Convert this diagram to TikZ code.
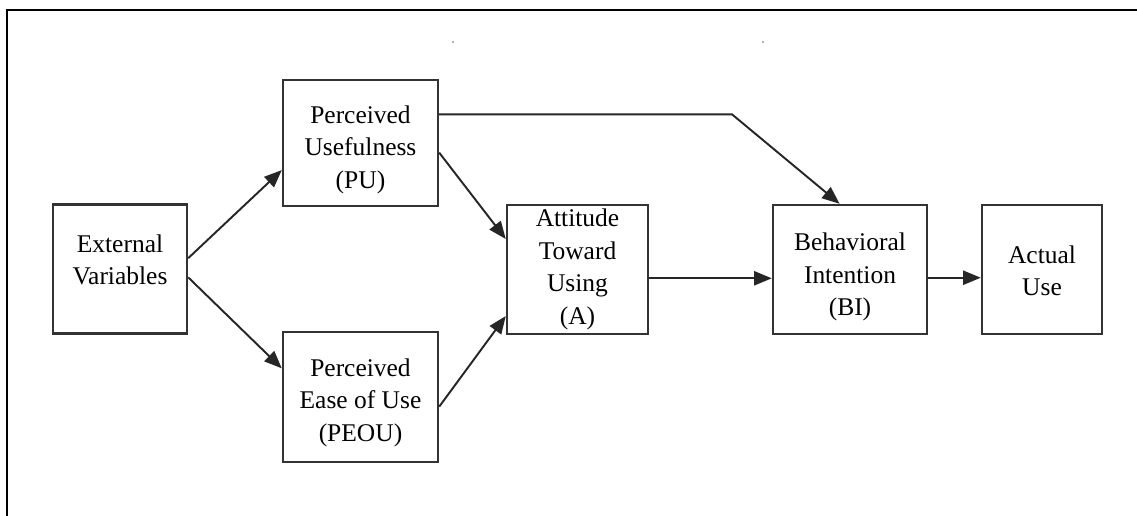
\documentclass[tikz,border=0pt]{standalone}
\usepackage{fontspec}
\setmainfont{Liberation Serif}
\usetikzlibrary{arrows.meta}

\tikzset{
  block/.style={draw=black!80, line width=1.4pt, minimum height=2.58cm, align=center, inner sep=0pt,
    font=\fontsize{14.5}{18.6}\selectfont},
  link/.style={-{Triangle[length=10pt,width=8pt]}, line width=1.1pt, draw=black!85}
}

\begin{document}
\begin{tikzpicture}[x=0.02cm, y=-0.02cm]
        \useasboundingbox (0,0) rectangle (1137,516);
        \draw[line width=1.6pt] (7,530) -- (7,10) -- (1150,10);
        \fill[black!60] (453,42) circle (0.9) (763,42) circle (0.9);

        \node[block, minimum width=2.68cm] (ev) at (120,269) {External\\Variables\\[-8pt]};
        \node[block, minimum width=3.1cm, minimum height=2.52cm] (pu) at (360.5,143) {Perceived\\Usefulness\\(PU)\\[-23pt]};
        \node[block, minimum width=3.1cm, minimum height=2.6cm] (peou) at (360.5,397) {Perceived\\Ease of Use\\(PEOU)\\[-22pt]};
        \node[block, minimum width=2.82cm] (att) at (577.5,269.5) {Attitude\\Toward\\Using\\(A)};
        \node[block, minimum width=3.08cm] (bi) at (850,269.5) {Behavioral\\Intention\\(BI)\\[-24pt]};
        \node[block, minimum width=2.4cm] (au) at (1042,269.5) {Actual\\Use\\[-20pt]};
        \coordinate (bend) at (732,114);

        \draw[link] (ev.9) -- (pu.199);
        \draw[link] (ev.-7) -- (peou.160);
        \draw[link] (pu.-7) -- (att.157);
        \draw[link] (peou.-7) -- (att.213);
        \draw[link] (att.-7) -- (att.-7 -| bi.west);
        \draw[link] (bi.-6) -- (bi.-6 -| au.west);
        \draw[link] (pu.20) -- (pu.20 -| bend) -- (bi.99);
    \end{tikzpicture}
\end{document}
